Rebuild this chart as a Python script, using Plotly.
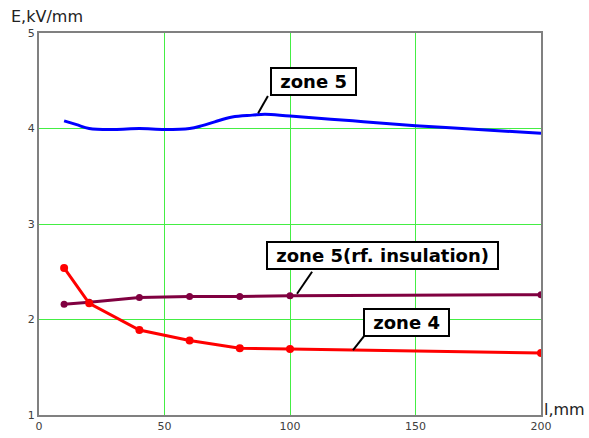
import plotly.graph_objects as go

# ---- data ----
x_zone4 = [10, 20, 40, 60, 80, 100, 200]
y_zone4 = [2.54, 2.17, 1.89, 1.78, 1.70, 1.69, 1.65]

x_zone5rf = [10, 20, 40, 60, 80, 100, 200]
y_zone5rf = [2.16, 2.18, 2.23, 2.24, 2.24, 2.25, 2.26]

x_zone5 = [10, 15, 20, 30, 40, 50, 60, 65, 70, 77, 85, 90, 100, 125, 150, 175, 200]
y_zone5 = [4.08, 4.04, 4.00, 3.99, 4.00, 3.99, 4.00, 4.03, 4.07, 4.12, 4.14, 4.15, 4.13, 4.08, 4.03, 3.99, 3.95]

x_ticks = [0, 50, 100, 150, 200]
y_ticks = [1, 2, 3, 4, 5]

labels = ["zone 5", "zone 5(rf. insulation)", "zone 4"]
label_pos = [(109.4, 4.49), (136.7, 2.67), (146.4, 1.97)]
leader = [((91.2, 4.34), (87.3, 4.16)),
          ((108.8, 2.50), (102.8, 2.27)),
          ((129.9, 1.84), (125.1, 1.68))]

fig = go.Figure()
fig.add_trace(go.Scatter(x=x_zone5, y=y_zone5, mode="lines",
                         line=dict(color="#0000ff", width=3), line_shape="spline"))
fig.add_trace(go.Scatter(x=x_zone5rf, y=y_zone5rf, mode="lines+markers",
                         line=dict(color="#800040", width=3),
                         marker=dict(color="#800040", size=7)))
fig.add_trace(go.Scatter(x=x_zone4, y=y_zone4, mode="lines+markers",
                         line=dict(color="#ff0000", width=3),
                         marker=dict(color="#ff0000", size=8)))

for (a, b) in leader:
    fig.add_shape(type="line", xref="x", yref="y", x0=a[0], y0=a[1], x1=b[0], y1=b[1],
                  line=dict(color="black", width=2))

for t, (px, py) in zip(labels, label_pos):
    fig.add_annotation(x=px, y=py, xref="x", yref="y", text="<b>&nbsp;%s&nbsp;</b>" % t,
                       showarrow=False, bgcolor="white", bordercolor="black",
                       borderwidth=2, borderpad=2,
                       font=dict(family="DejaVu Sans", size=18, color="black"))

fig.add_annotation(xref="paper", yref="paper", x=-30/502, y=1 + 17/382,
                   xanchor="left", yanchor="middle", text="E,kV/mm", showarrow=False,
                   font=dict(family="DejaVu Sans", size=16, color="#222222"))
fig.add_annotation(xref="paper", yref="paper", x=1.002, y=0.015,
                   xanchor="left", yanchor="middle", text="l,mm", showarrow=False,
                   font=dict(family="DejaVu Sans", size=16, color="#222222"))

axis_common = dict(showgrid=True, gridcolor="#44ee44", gridwidth=1,
                   showline=True, linecolor="#808080", linewidth=2, mirror=True,
                   zeroline=False, ticks="", automargin=False,
                   tickfont=dict(family="DejaVu Sans", size=11, color="#404040"))

fig.update_xaxes(range=[0, 200], tickvals=x_ticks, **axis_common)
fig.update_yaxes(range=[1, 5], tickvals=y_ticks, **axis_common)

fig.update_layout(width=589, height=438, showlegend=False,
                  margin=dict(l=39, r=48, t=33, b=23),
                  plot_bgcolor="white", paper_bgcolor="white")

fig.write_html("out.html", config={"displayModeBar": False},
               post_script="document.body.style.margin='0';")
